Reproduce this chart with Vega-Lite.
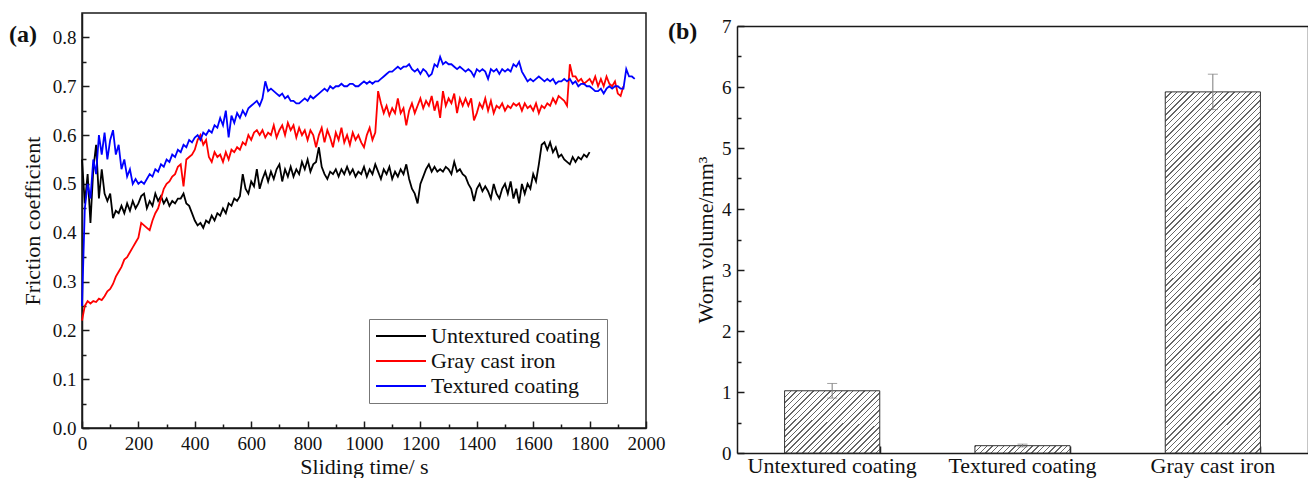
{
"$schema": "https://vega.github.io/schema/vega-lite/v6.json",
"background": "white",
"padding": {"left": 8, "top": 12, "right": 0, "bottom": 0},
"spacing": 2,
"config": {
  "font": "Liberation Serif",
  "view": {"stroke": "#1a1a1a", "strokeWidth": 1.5},
  "axis": {"labelFont": "Liberation Serif", "titleFont": "Liberation Serif", "labelFontSize": 19, "titleFontSize": 22, "titleFontWeight": "normal", "labelColor": "#111", "titleColor": "#111", "domainColor": "#1a1a1a", "tickColor": "#1a1a1a", "domainWidth": 1.5, "tickWidth": 1.5, "grid": false, "labelFlush": false, "labelOverlap": false, "labelLimit": 400},
  "legend": {"labelFont": "Liberation Serif"},
  "title": {"font": "Liberation Serif", "fontSize": 24, "fontWeight": "bold", "color": "#111", "anchor": "start", "frame": "group", "offset": 0}
},
"hconcat": [
{
  "width": 564, "height": 415,
  "title": {"text": "(a)", "dx": -73, "dy": 38},
  "data": {"values": [
{"t":0,"u":0.55,"g":0.22,"b":0.25},{"t":10,"u":0.46,"g":0.25,"b":0.45},{"t":20,"u":0.52,"g":0.26,"b":0.50},{"t":30,"u":0.42,"g":0.255,"b":0.47},{"t":40,"u":0.53,"g":0.26,"b":0.55},{"t":50,"u":0.58,"g":0.258,"b":0.52},{"t":60,"u":0.47,"g":0.265,"b":0.60},{"t":70,"u":0.53,"g":0.262,"b":0.56},{"t":80,"u":0.48,"g":0.27,"b":0.605},{"t":90,"u":0.465,"g":0.28,"b":0.55},
{"t":100,"u":0.48,"g":0.285,"b":0.59},{"t":110,"u":0.43,"g":0.295,"b":0.61},{"t":120,"u":0.445,"g":0.31,"b":0.56},{"t":130,"u":0.44,"g":0.32,"b":0.58},{"t":140,"u":0.455,"g":0.33,"b":0.53},{"t":150,"u":0.44,"g":0.345,"b":0.55},{"t":160,"u":0.46,"g":0.35,"b":0.515},{"t":170,"u":0.445,"g":0.36,"b":0.53},{"t":180,"u":0.465,"g":0.37,"b":0.50},{"t":190,"u":0.45,"g":0.38,"b":0.51},
{"t":200,"u":0.46,"g":0.39,"b":0.50},{"t":210,"u":0.475,"g":0.42,"b":0.505},{"t":220,"u":0.48,"g":0.415,"b":0.50},{"t":230,"u":0.45,"g":0.41,"b":0.51},{"t":240,"u":0.465,"g":0.405,"b":0.52},{"t":250,"u":0.455,"g":0.425,"b":0.515},{"t":260,"u":0.48,"g":0.44,"b":0.53},{"t":270,"u":0.465,"g":0.45,"b":0.525},{"t":280,"u":0.475,"g":0.47,"b":0.54},{"t":290,"u":0.46,"g":0.49,"b":0.535},
{"t":300,"u":0.47,"g":0.50,"b":0.55},{"t":310,"u":0.455,"g":0.505,"b":0.545},{"t":320,"u":0.465,"g":0.515,"b":0.56},{"t":330,"u":0.46,"g":0.52,"b":0.555},{"t":340,"u":0.47,"g":0.535,"b":0.57},{"t":350,"u":0.47,"g":0.54,"b":0.565},{"t":360,"u":0.48,"g":0.495,"b":0.58},{"t":370,"u":0.46,"g":0.55,"b":0.575},{"t":380,"u":0.455,"g":0.555,"b":0.59},{"t":390,"u":0.44,"g":0.56,"b":0.585},
{"t":400,"u":0.425,"g":0.57,"b":0.595},{"t":410,"u":0.415,"g":0.59,"b":0.60},{"t":420,"u":0.42,"g":0.60,"b":0.59},{"t":430,"u":0.41,"g":0.58,"b":0.605},{"t":440,"u":0.425,"g":0.59,"b":0.60},{"t":450,"u":0.42,"g":0.555,"b":0.61},{"t":460,"u":0.435,"g":0.545,"b":0.605},{"t":470,"u":0.425,"g":0.565,"b":0.62},{"t":480,"u":0.44,"g":0.555,"b":0.615},{"t":490,"u":0.435,"g":0.56,"b":0.635},
{"t":500,"u":0.45,"g":0.545,"b":0.62},{"t":510,"u":0.44,"g":0.565,"b":0.65},{"t":520,"u":0.46,"g":0.55,"b":0.595},{"t":530,"u":0.455,"g":0.57,"b":0.64},{"t":540,"u":0.47,"g":0.565,"b":0.625},{"t":550,"u":0.465,"g":0.575,"b":0.645},{"t":560,"u":0.475,"g":0.57,"b":0.635},{"t":570,"u":0.52,"g":0.585,"b":0.65},{"t":580,"u":0.49,"g":0.58,"b":0.64},{"t":590,"u":0.48,"g":0.60,"b":0.655},
{"t":600,"u":0.505,"g":0.59,"b":0.66},{"t":610,"u":0.495,"g":0.605,"b":0.665},{"t":620,"u":0.53,"g":0.61,"b":0.67},{"t":630,"u":0.49,"g":0.60,"b":0.66},{"t":640,"u":0.51,"g":0.61,"b":0.675},{"t":650,"u":0.525,"g":0.595,"b":0.71},{"t":660,"u":0.505,"g":0.605,"b":0.69},{"t":670,"u":0.525,"g":0.60,"b":0.695},{"t":680,"u":0.51,"g":0.62,"b":0.69},{"t":690,"u":0.53,"g":0.595,"b":0.685},
{"t":700,"u":0.54,"g":0.61,"b":0.68},{"t":710,"u":0.505,"g":0.62,"b":0.685},{"t":720,"u":0.53,"g":0.60,"b":0.675},{"t":730,"u":0.515,"g":0.625,"b":0.68},{"t":740,"u":0.535,"g":0.61,"b":0.67},{"t":750,"u":0.515,"g":0.62,"b":0.67},{"t":760,"u":0.53,"g":0.595,"b":0.665},{"t":770,"u":0.52,"g":0.615,"b":0.665},{"t":780,"u":0.545,"g":0.60,"b":0.67},{"t":790,"u":0.53,"g":0.61,"b":0.675},
{"t":800,"u":0.55,"g":0.59,"b":0.67},{"t":810,"u":0.525,"g":0.61,"b":0.68},{"t":820,"u":0.54,"g":0.60,"b":0.675},{"t":830,"u":0.545,"g":0.575,"b":0.68},{"t":840,"u":0.575,"g":0.60,"b":0.685},{"t":850,"u":0.535,"g":0.615,"b":0.69},{"t":860,"u":0.52,"g":0.585,"b":0.695},{"t":870,"u":0.51,"g":0.61,"b":0.69},{"t":880,"u":0.525,"g":0.595,"b":0.70},{"t":890,"u":0.52,"g":0.575,"b":0.695},
{"t":900,"u":0.53,"g":0.605,"b":0.70},{"t":910,"u":0.515,"g":0.59,"b":0.70},{"t":920,"u":0.53,"g":0.615,"b":0.705},{"t":930,"u":0.52,"g":0.585,"b":0.70},{"t":940,"u":0.535,"g":0.60,"b":0.70},{"t":950,"u":0.52,"g":0.58,"b":0.705},{"t":960,"u":0.53,"g":0.605,"b":0.705},{"t":970,"u":0.515,"g":0.59,"b":0.70},{"t":980,"u":0.525,"g":0.60,"b":0.70},{"t":990,"u":0.52,"g":0.585,"b":0.705},
{"t":1000,"u":0.535,"g":0.575,"b":0.71},{"t":1010,"u":0.515,"g":0.60,"b":0.705},{"t":1020,"u":0.53,"g":0.615,"b":0.71},{"t":1030,"u":0.52,"g":0.59,"b":0.705},{"t":1040,"u":0.54,"g":0.605,"b":0.71},{"t":1050,"u":0.525,"g":0.69,"b":0.71},{"t":1060,"u":0.51,"g":0.665,"b":0.715},{"t":1070,"u":0.53,"g":0.645,"b":0.72},{"t":1080,"u":0.52,"g":0.66,"b":0.725},{"t":1090,"u":0.535,"g":0.64,"b":0.73},
{"t":1100,"u":0.51,"g":0.655,"b":0.73},{"t":1110,"u":0.525,"g":0.645,"b":0.735},{"t":1120,"u":0.515,"g":0.675,"b":0.74},{"t":1130,"u":0.53,"g":0.645,"b":0.735},{"t":1140,"u":0.52,"g":0.655,"b":0.74},{"t":1150,"u":0.54,"g":0.62,"b":0.74},{"t":1160,"u":0.51,"g":0.65,"b":0.745},{"t":1170,"u":0.49,"g":0.665,"b":0.735},{"t":1180,"u":0.48,"g":0.645,"b":0.73},{"t":1190,"u":0.46,"g":0.66,"b":0.735},
{"t":1200,"u":0.50,"g":0.675,"b":0.725},{"t":1210,"u":0.515,"g":0.655,"b":0.735},{"t":1220,"u":0.53,"g":0.67,"b":0.73},{"t":1230,"u":0.54,"g":0.66,"b":0.72},{"t":1240,"u":0.525,"g":0.68,"b":0.725},{"t":1250,"u":0.535,"g":0.65,"b":0.745},{"t":1260,"u":0.525,"g":0.67,"b":0.74},{"t":1270,"u":0.53,"g":0.635,"b":0.76},{"t":1280,"u":0.525,"g":0.69,"b":0.745},{"t":1290,"u":0.535,"g":0.66,"b":0.75},
{"t":1300,"u":0.53,"g":0.675,"b":0.745},{"t":1310,"u":0.52,"g":0.665,"b":0.745},{"t":1320,"u":0.545,"g":0.685,"b":0.74},{"t":1330,"u":0.525,"g":0.645,"b":0.735},{"t":1340,"u":0.53,"g":0.675,"b":0.74},{"t":1350,"u":0.52,"g":0.66,"b":0.735},{"t":1360,"u":0.515,"g":0.675,"b":0.73},{"t":1370,"u":0.50,"g":0.66,"b":0.735},{"t":1380,"u":0.49,"g":0.675,"b":0.73},{"t":1390,"u":0.465,"g":0.63,"b":0.72},
{"t":1400,"u":0.49,"g":0.645,"b":0.735},{"t":1410,"u":0.50,"g":0.665,"b":0.73},{"t":1420,"u":0.485,"g":0.655,"b":0.735},{"t":1430,"u":0.495,"g":0.675,"b":0.73},{"t":1440,"u":0.485,"g":0.65,"b":0.715},{"t":1450,"u":0.47,"g":0.67,"b":0.735},{"t":1460,"u":0.50,"g":0.645,"b":0.73},{"t":1470,"u":0.48,"g":0.66,"b":0.735},{"t":1480,"u":0.47,"g":0.655,"b":0.725},{"t":1490,"u":0.49,"g":0.665,"b":0.735},
{"t":1500,"u":0.50,"g":0.65,"b":0.73},{"t":1510,"u":0.48,"g":0.66,"b":0.735},{"t":1520,"u":0.505,"g":0.655,"b":0.73},{"t":1530,"u":0.47,"g":0.665,"b":0.745},{"t":1540,"u":0.49,"g":0.66,"b":0.74},{"t":1550,"u":0.46,"g":0.665,"b":0.75},{"t":1560,"u":0.50,"g":0.65,"b":0.73},{"t":1570,"u":0.48,"g":0.665,"b":0.72},{"t":1580,"u":0.50,"g":0.655,"b":0.71},{"t":1590,"u":0.49,"g":0.66,"b":0.715},
{"t":1600,"u":0.52,"g":0.65,"b":0.71},{"t":1610,"u":0.505,"g":0.665,"b":0.715},{"t":1620,"u":0.54,"g":0.645,"b":0.72},{"t":1630,"u":0.58,"g":0.66,"b":0.715},{"t":1640,"u":0.585,"g":0.655,"b":0.71},{"t":1650,"u":0.57,"g":0.665,"b":0.715},{"t":1660,"u":0.585,"g":0.66,"b":0.71},{"t":1670,"u":0.565,"g":0.675,"b":0.715},{"t":1680,"u":0.575,"g":0.665,"b":0.705},{"t":1690,"u":0.555,"g":0.68,"b":0.71},
{"t":1700,"u":0.56,"g":0.675,"b":0.71},{"t":1710,"u":0.55,"g":0.67,"b":0.715},{"t":1720,"u":0.545,"g":0.66,"b":0.71},{"t":1730,"u":0.54,"g":0.745,"b":0.715},{"t":1740,"u":0.555,"g":0.72,"b":0.705},{"t":1750,"u":0.545,"g":0.72,"b":0.71},{"t":1760,"u":0.555,"g":0.71,"b":0.70},{"t":1770,"u":0.55,"g":0.715,"b":0.705},{"t":1780,"u":0.56,"g":0.705,"b":0.705},{"t":1790,"u":0.555,"g":0.71,"b":0.70},
{"t":1800,"u":0.565,"g":0.715,"b":0.70},{"t":1810,"g":0.705,"b":0.695},{"t":1820,"g":0.72,"b":0.69},{"t":1830,"g":0.70,"b":0.69},{"t":1840,"g":0.715,"b":0.695},{"t":1850,"g":0.70,"b":0.685},{"t":1860,"g":0.72,"b":0.695},{"t":1870,"g":0.705,"b":0.70},{"t":1880,"g":0.70,"b":0.695},{"t":1890,"g":0.71,"b":0.70},
{"t":1900,"g":0.685,"b":0.70},{"t":1910,"g":0.68,"b":0.695},{"t":1920,"g":0.70,"b":0.695},{"t":1930,"b":0.735},{"t":1940,"b":0.72},{"t":1950,"b":0.72},{"t":1960,"b":0.715}
  ]},
  "transform": [{"fold": ["u", "g", "b"], "as": ["s", "v"]}],
  "mark": {"type": "line", "strokeWidth": 1.8},
  "encoding": {
    "x": {"field": "t", "type": "quantitative", "scale": {"domain": [0, 2000], "nice": false},
      "axis": {"title": "Sliding time/ s", "values": [0,100,200,300,400,500,600,700,800,900,1000,1100,1200,1300,1400,1500,1600,1700,1800,1900,2000], "format": "d",
        "labelExpr": "round(datum.value/100)%2===0 ? datum.label : ''",
        "tickSize": {"condition": {"test": "round(datum.value/100)%2===0", "value": -7}, "value": -4},
        "labelPadding": 13, "titlePadding": 0}},
    "y": {"field": "v", "type": "quantitative", "scale": {"domain": [0, 0.85], "nice": false},
      "axis": {"title": "Friction coefficient", "values": [0,0.05,0.1,0.15,0.2,0.25,0.3,0.35,0.4,0.45,0.5,0.55,0.6,0.65,0.7,0.75,0.8], "format": ".1f",
        "labelExpr": "round(datum.value*20)%2===0 ? datum.label : ''",
        "tickSize": {"condition": {"test": "round(datum.value*20)%2===0", "value": -7}, "value": -4},
        "labelPadding": 13, "titlePadding": 8}},
    "color": {"field": "s", "type": "nominal",
      "scale": {"domain": ["u", "g", "b"], "range": ["#000000", "#ff0000", "#0000ff"]},
      "legend": {"orient": "none", "legendX": 287, "legendY": 306, "title": null,
        "labelExpr": "datum.label==='u' ? 'Untextured coating' : datum.label==='g' ? 'Gray cast iron' : 'Textured coating'",
        "symbolType": "stroke", "symbolSize": 2500, "symbolStrokeWidth": 2, "clipHeight": 22, "labelFontSize": 22, "labelColor": "#111", "labelLimit": 400,
        "strokeColor": "#777", "fillColor": "#ffffff", "padding": 6, "rowPadding": 3, "labelOffset": 4}}
  }
},
{
  "width": 571, "height": 440,
  "view": {"stroke": null},
  "title": {"text": "(b)", "dx": -69, "dy": 35},
  "data": {"values": [
    {"c": "Untextured coating", "v": 1.02, "lo": 0.90, "hi": 1.14},
    {"c": "Textured coating", "v": 0.12, "lo": 0.10, "hi": 0.145},
    {"c": "Gray cast iron", "v": 5.92, "lo": 5.63, "hi": 6.21}
  ]},
  "resolve": {"axis": {"x": "independent", "y": "independent"}},
  "layer": [
    {
      "mark": {"type": "bar", "stroke": "#333", "strokeWidth": 1},
      "encoding": {
        "x": {"field": "c", "type": "nominal", "sort": null, "scale": {"domain": ["Untextured coating", "Textured coating", "Gray cast iron"], "paddingInner": 0.5, "paddingOuter": 0.25},
          "axis": {"orient": "bottom", "title": null, "labelAngle": 0, "labelFontSize": 22, "tickSize": -7, "labelPadding": 9}},
        "y": {"field": "v", "type": "quantitative", "scale": {"domain": [0, 7], "nice": false, "range": [440, 13]},
          "axis": {"orient": "left", "title": "Worn volume/mm³", "values": [0,0.5,1,1.5,2,2.5,3,3.5,4,4.5,5,5.5,6,6.5,7],
            "labelExpr": "datum.value % 1 === 0 ? format(datum.value, 'd') : ''",
            "tickSize": {"condition": {"test": "datum.value % 1 === 0", "value": -7}, "value": -4},
            "labelPadding": 13, "titlePadding": 4}},
        "fill": {"condition": [
          {"test": "datum.c === 'Untextured coating'", "value": {"gradient": "linear", "x1": 0, "y1": 0, "x2": 1.158, "y2": 0.758, "stops": [
{"offset":0,"color":"#666"},{"offset":0.009,"color":"#666"},{"offset":0.009,"color":"#fff"},{"offset":0.036,"color":"#fff"},
{"offset":0.036,"color":"#666"},{"offset":0.045,"color":"#666"},{"offset":0.045,"color":"#fff"},{"offset":0.072,"color":"#fff"},
{"offset":0.072,"color":"#666"},{"offset":0.081,"color":"#666"},{"offset":0.081,"color":"#fff"},{"offset":0.108,"color":"#fff"},
{"offset":0.108,"color":"#666"},{"offset":0.117,"color":"#666"},{"offset":0.117,"color":"#fff"},{"offset":0.144,"color":"#fff"},
{"offset":0.144,"color":"#666"},{"offset":0.153,"color":"#666"},{"offset":0.153,"color":"#fff"},{"offset":0.18,"color":"#fff"},
{"offset":0.18,"color":"#666"},{"offset":0.189,"color":"#666"},{"offset":0.189,"color":"#fff"},{"offset":0.216,"color":"#fff"},
{"offset":0.216,"color":"#666"},{"offset":0.225,"color":"#666"},{"offset":0.225,"color":"#fff"},{"offset":0.252,"color":"#fff"},
{"offset":0.252,"color":"#666"},{"offset":0.261,"color":"#666"},{"offset":0.261,"color":"#fff"},{"offset":0.288,"color":"#fff"},
{"offset":0.288,"color":"#666"},{"offset":0.297,"color":"#666"},{"offset":0.297,"color":"#fff"},{"offset":0.324,"color":"#fff"},
{"offset":0.324,"color":"#666"},{"offset":0.333,"color":"#666"},{"offset":0.333,"color":"#fff"},{"offset":0.36,"color":"#fff"},
{"offset":0.36,"color":"#666"},{"offset":0.369,"color":"#666"},{"offset":0.369,"color":"#fff"},{"offset":0.396,"color":"#fff"},
{"offset":0.396,"color":"#666"},{"offset":0.405,"color":"#666"},{"offset":0.405,"color":"#fff"},{"offset":0.432,"color":"#fff"},
{"offset":0.432,"color":"#666"},{"offset":0.441,"color":"#666"},{"offset":0.441,"color":"#fff"},{"offset":0.468,"color":"#fff"},
{"offset":0.468,"color":"#666"},{"offset":0.477,"color":"#666"},{"offset":0.477,"color":"#fff"},{"offset":0.504,"color":"#fff"},
{"offset":0.504,"color":"#666"},{"offset":0.513,"color":"#666"},{"offset":0.513,"color":"#fff"},{"offset":0.54,"color":"#fff"},
{"offset":0.54,"color":"#666"},{"offset":0.549,"color":"#666"},{"offset":0.549,"color":"#fff"},{"offset":0.576,"color":"#fff"},
{"offset":0.576,"color":"#666"},{"offset":0.585,"color":"#666"},{"offset":0.585,"color":"#fff"},{"offset":0.612,"color":"#fff"},
{"offset":0.612,"color":"#666"},{"offset":0.621,"color":"#666"},{"offset":0.621,"color":"#fff"},{"offset":0.648,"color":"#fff"},
{"offset":0.648,"color":"#666"},{"offset":0.657,"color":"#666"},{"offset":0.657,"color":"#fff"},{"offset":0.684,"color":"#fff"},
{"offset":0.684,"color":"#666"},{"offset":0.693,"color":"#666"},{"offset":0.693,"color":"#fff"},{"offset":0.72,"color":"#fff"},
{"offset":0.72,"color":"#666"},{"offset":0.729,"color":"#666"},{"offset":0.729,"color":"#fff"},{"offset":0.756,"color":"#fff"},
{"offset":0.756,"color":"#666"},{"offset":0.765,"color":"#666"},{"offset":0.765,"color":"#fff"},{"offset":0.792,"color":"#fff"},
{"offset":0.792,"color":"#666"},{"offset":0.801,"color":"#666"},{"offset":0.801,"color":"#fff"},{"offset":0.828,"color":"#fff"},
{"offset":0.828,"color":"#666"},{"offset":0.837,"color":"#666"},{"offset":0.837,"color":"#fff"},{"offset":0.864,"color":"#fff"},
{"offset":0.864,"color":"#666"},{"offset":0.873,"color":"#666"},{"offset":0.873,"color":"#fff"},{"offset":0.9,"color":"#fff"},
{"offset":0.9,"color":"#666"},{"offset":0.909,"color":"#666"},{"offset":0.909,"color":"#fff"},{"offset":0.936,"color":"#fff"},
{"offset":0.936,"color":"#666"},{"offset":0.945,"color":"#666"},{"offset":0.945,"color":"#fff"},{"offset":0.972,"color":"#fff"},
{"offset":0.972,"color":"#666"},{"offset":0.981,"color":"#666"},{"offset":0.981,"color":"#fff"},{"offset":1,"color":"#fff"}
          ]}},
          {"test": "datum.c === 'Textured coating'", "value": {"gradient": "linear", "x1": 0, "y1": 0, "x2": 1.0706, "y2": 0.0823, "stops": [
{"offset":0,"color":"#666"},{"offset":0.014,"color":"#666"},{"offset":0.014,"color":"#fff"},{"offset":0.056,"color":"#fff"},
{"offset":0.056,"color":"#666"},{"offset":0.07,"color":"#666"},{"offset":0.07,"color":"#fff"},{"offset":0.112,"color":"#fff"},
{"offset":0.112,"color":"#666"},{"offset":0.126,"color":"#666"},{"offset":0.126,"color":"#fff"},{"offset":0.168,"color":"#fff"},
{"offset":0.168,"color":"#666"},{"offset":0.182,"color":"#666"},{"offset":0.182,"color":"#fff"},{"offset":0.224,"color":"#fff"},
{"offset":0.224,"color":"#666"},{"offset":0.238,"color":"#666"},{"offset":0.238,"color":"#fff"},{"offset":0.28,"color":"#fff"},
{"offset":0.28,"color":"#666"},{"offset":0.294,"color":"#666"},{"offset":0.294,"color":"#fff"},{"offset":0.336,"color":"#fff"},
{"offset":0.336,"color":"#666"},{"offset":0.35,"color":"#666"},{"offset":0.35,"color":"#fff"},{"offset":0.392,"color":"#fff"},
{"offset":0.392,"color":"#666"},{"offset":0.406,"color":"#666"},{"offset":0.406,"color":"#fff"},{"offset":0.448,"color":"#fff"},
{"offset":0.448,"color":"#666"},{"offset":0.462,"color":"#666"},{"offset":0.462,"color":"#fff"},{"offset":0.504,"color":"#fff"},
{"offset":0.504,"color":"#666"},{"offset":0.518,"color":"#666"},{"offset":0.518,"color":"#fff"},{"offset":0.56,"color":"#fff"},
{"offset":0.56,"color":"#666"},{"offset":0.574,"color":"#666"},{"offset":0.574,"color":"#fff"},{"offset":0.616,"color":"#fff"},
{"offset":0.616,"color":"#666"},{"offset":0.63,"color":"#666"},{"offset":0.63,"color":"#fff"},{"offset":0.672,"color":"#fff"},
{"offset":0.672,"color":"#666"},{"offset":0.686,"color":"#666"},{"offset":0.686,"color":"#fff"},{"offset":0.728,"color":"#fff"},
{"offset":0.728,"color":"#666"},{"offset":0.742,"color":"#666"},{"offset":0.742,"color":"#fff"},{"offset":0.784,"color":"#fff"},
{"offset":0.784,"color":"#666"},{"offset":0.798,"color":"#666"},{"offset":0.798,"color":"#fff"},{"offset":0.84,"color":"#fff"},
{"offset":0.84,"color":"#666"},{"offset":0.854,"color":"#666"},{"offset":0.854,"color":"#fff"},{"offset":0.896,"color":"#fff"},
{"offset":0.896,"color":"#666"},{"offset":0.91,"color":"#666"},{"offset":0.91,"color":"#fff"},{"offset":0.952,"color":"#fff"},
{"offset":0.952,"color":"#666"},{"offset":0.966,"color":"#666"},{"offset":0.966,"color":"#fff"},{"offset":1,"color":"#fff"}
          ]}}
        ],
        "value": {"gradient": "linear", "x1": 0, "y1": 0, "x2": 0.3109, "y2": 1.1813, "stops": [
{"offset":0,"color":"#666"},{"offset":0.003,"color":"#666"},{"offset":0.003,"color":"#fff"},{"offset":0.0125,"color":"#fff"},{"offset":0.0125,"color":"#666"},{"offset":0.0155,"color":"#666"},{"offset":0.0155,"color":"#fff"},{"offset":0.025,"color":"#fff"},{"offset":0.025,"color":"#666"},{"offset":0.028,"color":"#666"},{"offset":0.028,"color":"#fff"},{"offset":0.0375,"color":"#fff"},{"offset":0.0375,"color":"#666"},{"offset":0.0405,"color":"#666"},{"offset":0.0405,"color":"#fff"},{"offset":0.05,"color":"#fff"},{"offset":0.05,"color":"#666"},{"offset":0.053,"color":"#666"},{"offset":0.053,"color":"#fff"},{"offset":0.0625,"color":"#fff"},{"offset":0.0625,"color":"#666"},{"offset":0.0655,"color":"#666"},{"offset":0.0655,"color":"#fff"},{"offset":0.075,"color":"#fff"},{"offset":0.075,"color":"#666"},{"offset":0.078,"color":"#666"},{"offset":0.078,"color":"#fff"},{"offset":0.0875,"color":"#fff"},{"offset":0.0875,"color":"#666"},{"offset":0.0905,"color":"#666"},{"offset":0.0905,"color":"#fff"},{"offset":0.1,"color":"#fff"},
{"offset":0.1,"color":"#666"},{"offset":0.103,"color":"#666"},{"offset":0.103,"color":"#fff"},{"offset":0.1125,"color":"#fff"},{"offset":0.1125,"color":"#666"},{"offset":0.1155,"color":"#666"},{"offset":0.1155,"color":"#fff"},{"offset":0.125,"color":"#fff"},{"offset":0.125,"color":"#666"},{"offset":0.128,"color":"#666"},{"offset":0.128,"color":"#fff"},{"offset":0.1375,"color":"#fff"},{"offset":0.1375,"color":"#666"},{"offset":0.1405,"color":"#666"},{"offset":0.1405,"color":"#fff"},{"offset":0.15,"color":"#fff"},{"offset":0.15,"color":"#666"},{"offset":0.153,"color":"#666"},{"offset":0.153,"color":"#fff"},{"offset":0.1625,"color":"#fff"},{"offset":0.1625,"color":"#666"},{"offset":0.1655,"color":"#666"},{"offset":0.1655,"color":"#fff"},{"offset":0.175,"color":"#fff"},{"offset":0.175,"color":"#666"},{"offset":0.178,"color":"#666"},{"offset":0.178,"color":"#fff"},{"offset":0.1875,"color":"#fff"},{"offset":0.1875,"color":"#666"},{"offset":0.1905,"color":"#666"},{"offset":0.1905,"color":"#fff"},{"offset":0.2,"color":"#fff"},
{"offset":0.2,"color":"#666"},{"offset":0.203,"color":"#666"},{"offset":0.203,"color":"#fff"},{"offset":0.2125,"color":"#fff"},{"offset":0.2125,"color":"#666"},{"offset":0.2155,"color":"#666"},{"offset":0.2155,"color":"#fff"},{"offset":0.225,"color":"#fff"},{"offset":0.225,"color":"#666"},{"offset":0.228,"color":"#666"},{"offset":0.228,"color":"#fff"},{"offset":0.2375,"color":"#fff"},{"offset":0.2375,"color":"#666"},{"offset":0.2405,"color":"#666"},{"offset":0.2405,"color":"#fff"},{"offset":0.25,"color":"#fff"},{"offset":0.25,"color":"#666"},{"offset":0.253,"color":"#666"},{"offset":0.253,"color":"#fff"},{"offset":0.2625,"color":"#fff"},{"offset":0.2625,"color":"#666"},{"offset":0.2655,"color":"#666"},{"offset":0.2655,"color":"#fff"},{"offset":0.275,"color":"#fff"},{"offset":0.275,"color":"#666"},{"offset":0.278,"color":"#666"},{"offset":0.278,"color":"#fff"},{"offset":0.2875,"color":"#fff"},{"offset":0.2875,"color":"#666"},{"offset":0.2905,"color":"#666"},{"offset":0.2905,"color":"#fff"},{"offset":0.3,"color":"#fff"},
{"offset":0.3,"color":"#666"},{"offset":0.303,"color":"#666"},{"offset":0.303,"color":"#fff"},{"offset":0.3125,"color":"#fff"},{"offset":0.3125,"color":"#666"},{"offset":0.3155,"color":"#666"},{"offset":0.3155,"color":"#fff"},{"offset":0.325,"color":"#fff"},{"offset":0.325,"color":"#666"},{"offset":0.328,"color":"#666"},{"offset":0.328,"color":"#fff"},{"offset":0.3375,"color":"#fff"},{"offset":0.3375,"color":"#666"},{"offset":0.3405,"color":"#666"},{"offset":0.3405,"color":"#fff"},{"offset":0.35,"color":"#fff"},{"offset":0.35,"color":"#666"},{"offset":0.353,"color":"#666"},{"offset":0.353,"color":"#fff"},{"offset":0.3625,"color":"#fff"},{"offset":0.3625,"color":"#666"},{"offset":0.3655,"color":"#666"},{"offset":0.3655,"color":"#fff"},{"offset":0.375,"color":"#fff"},{"offset":0.375,"color":"#666"},{"offset":0.378,"color":"#666"},{"offset":0.378,"color":"#fff"},{"offset":0.3875,"color":"#fff"},{"offset":0.3875,"color":"#666"},{"offset":0.3905,"color":"#666"},{"offset":0.3905,"color":"#fff"},{"offset":0.4,"color":"#fff"},
{"offset":0.4,"color":"#666"},{"offset":0.403,"color":"#666"},{"offset":0.403,"color":"#fff"},{"offset":0.4125,"color":"#fff"},{"offset":0.4125,"color":"#666"},{"offset":0.4155,"color":"#666"},{"offset":0.4155,"color":"#fff"},{"offset":0.425,"color":"#fff"},{"offset":0.425,"color":"#666"},{"offset":0.428,"color":"#666"},{"offset":0.428,"color":"#fff"},{"offset":0.4375,"color":"#fff"},{"offset":0.4375,"color":"#666"},{"offset":0.4405,"color":"#666"},{"offset":0.4405,"color":"#fff"},{"offset":0.45,"color":"#fff"},{"offset":0.45,"color":"#666"},{"offset":0.453,"color":"#666"},{"offset":0.453,"color":"#fff"},{"offset":0.4625,"color":"#fff"},{"offset":0.4625,"color":"#666"},{"offset":0.4655,"color":"#666"},{"offset":0.4655,"color":"#fff"},{"offset":0.475,"color":"#fff"},{"offset":0.475,"color":"#666"},{"offset":0.478,"color":"#666"},{"offset":0.478,"color":"#fff"},{"offset":0.4875,"color":"#fff"},{"offset":0.4875,"color":"#666"},{"offset":0.4905,"color":"#666"},{"offset":0.4905,"color":"#fff"},{"offset":0.5,"color":"#fff"},
{"offset":0.5,"color":"#666"},{"offset":0.503,"color":"#666"},{"offset":0.503,"color":"#fff"},{"offset":0.5125,"color":"#fff"},{"offset":0.5125,"color":"#666"},{"offset":0.5155,"color":"#666"},{"offset":0.5155,"color":"#fff"},{"offset":0.525,"color":"#fff"},{"offset":0.525,"color":"#666"},{"offset":0.528,"color":"#666"},{"offset":0.528,"color":"#fff"},{"offset":0.5375,"color":"#fff"},{"offset":0.5375,"color":"#666"},{"offset":0.5405,"color":"#666"},{"offset":0.5405,"color":"#fff"},{"offset":0.55,"color":"#fff"},{"offset":0.55,"color":"#666"},{"offset":0.553,"color":"#666"},{"offset":0.553,"color":"#fff"},{"offset":0.5625,"color":"#fff"},{"offset":0.5625,"color":"#666"},{"offset":0.5655,"color":"#666"},{"offset":0.5655,"color":"#fff"},{"offset":0.575,"color":"#fff"},{"offset":0.575,"color":"#666"},{"offset":0.578,"color":"#666"},{"offset":0.578,"color":"#fff"},{"offset":0.5875,"color":"#fff"},{"offset":0.5875,"color":"#666"},{"offset":0.5905,"color":"#666"},{"offset":0.5905,"color":"#fff"},{"offset":0.6,"color":"#fff"},
{"offset":0.6,"color":"#666"},{"offset":0.603,"color":"#666"},{"offset":0.603,"color":"#fff"},{"offset":0.6125,"color":"#fff"},{"offset":0.6125,"color":"#666"},{"offset":0.6155,"color":"#666"},{"offset":0.6155,"color":"#fff"},{"offset":0.625,"color":"#fff"},{"offset":0.625,"color":"#666"},{"offset":0.628,"color":"#666"},{"offset":0.628,"color":"#fff"},{"offset":0.6375,"color":"#fff"},{"offset":0.6375,"color":"#666"},{"offset":0.6405,"color":"#666"},{"offset":0.6405,"color":"#fff"},{"offset":0.65,"color":"#fff"},{"offset":0.65,"color":"#666"},{"offset":0.653,"color":"#666"},{"offset":0.653,"color":"#fff"},{"offset":0.6625,"color":"#fff"},{"offset":0.6625,"color":"#666"},{"offset":0.6655,"color":"#666"},{"offset":0.6655,"color":"#fff"},{"offset":0.675,"color":"#fff"},{"offset":0.675,"color":"#666"},{"offset":0.678,"color":"#666"},{"offset":0.678,"color":"#fff"},{"offset":0.6875,"color":"#fff"},{"offset":0.6875,"color":"#666"},{"offset":0.6905,"color":"#666"},{"offset":0.6905,"color":"#fff"},{"offset":0.7,"color":"#fff"},
{"offset":0.7,"color":"#666"},{"offset":0.703,"color":"#666"},{"offset":0.703,"color":"#fff"},{"offset":0.7125,"color":"#fff"},{"offset":0.7125,"color":"#666"},{"offset":0.7155,"color":"#666"},{"offset":0.7155,"color":"#fff"},{"offset":0.725,"color":"#fff"},{"offset":0.725,"color":"#666"},{"offset":0.728,"color":"#666"},{"offset":0.728,"color":"#fff"},{"offset":0.7375,"color":"#fff"},{"offset":0.7375,"color":"#666"},{"offset":0.7405,"color":"#666"},{"offset":0.7405,"color":"#fff"},{"offset":0.75,"color":"#fff"},{"offset":0.75,"color":"#666"},{"offset":0.753,"color":"#666"},{"offset":0.753,"color":"#fff"},{"offset":0.7625,"color":"#fff"},{"offset":0.7625,"color":"#666"},{"offset":0.7655,"color":"#666"},{"offset":0.7655,"color":"#fff"},{"offset":0.775,"color":"#fff"},{"offset":0.775,"color":"#666"},{"offset":0.778,"color":"#666"},{"offset":0.778,"color":"#fff"},{"offset":0.7875,"color":"#fff"},{"offset":0.7875,"color":"#666"},{"offset":0.7905,"color":"#666"},{"offset":0.7905,"color":"#fff"},{"offset":0.8,"color":"#fff"},
{"offset":0.8,"color":"#666"},{"offset":0.803,"color":"#666"},{"offset":0.803,"color":"#fff"},{"offset":0.8125,"color":"#fff"},{"offset":0.8125,"color":"#666"},{"offset":0.8155,"color":"#666"},{"offset":0.8155,"color":"#fff"},{"offset":0.825,"color":"#fff"},{"offset":0.825,"color":"#666"},{"offset":0.828,"color":"#666"},{"offset":0.828,"color":"#fff"},{"offset":0.8375,"color":"#fff"},{"offset":0.8375,"color":"#666"},{"offset":0.8405,"color":"#666"},{"offset":0.8405,"color":"#fff"},{"offset":0.85,"color":"#fff"},{"offset":0.85,"color":"#666"},{"offset":0.853,"color":"#666"},{"offset":0.853,"color":"#fff"},{"offset":0.8625,"color":"#fff"},{"offset":0.8625,"color":"#666"},{"offset":0.8655,"color":"#666"},{"offset":0.8655,"color":"#fff"},{"offset":0.875,"color":"#fff"},{"offset":0.875,"color":"#666"},{"offset":0.878,"color":"#666"},{"offset":0.878,"color":"#fff"},{"offset":0.8875,"color":"#fff"},{"offset":0.8875,"color":"#666"},{"offset":0.8905,"color":"#666"},{"offset":0.8905,"color":"#fff"},{"offset":0.9,"color":"#fff"},
{"offset":0.9,"color":"#666"},{"offset":0.903,"color":"#666"},{"offset":0.903,"color":"#fff"},{"offset":0.9125,"color":"#fff"},{"offset":0.9125,"color":"#666"},{"offset":0.9155,"color":"#666"},{"offset":0.9155,"color":"#fff"},{"offset":0.925,"color":"#fff"},{"offset":0.925,"color":"#666"},{"offset":0.928,"color":"#666"},{"offset":0.928,"color":"#fff"},{"offset":0.9375,"color":"#fff"},{"offset":0.9375,"color":"#666"},{"offset":0.9405,"color":"#666"},{"offset":0.9405,"color":"#fff"},{"offset":0.95,"color":"#fff"},{"offset":0.95,"color":"#666"},{"offset":0.953,"color":"#666"},{"offset":0.953,"color":"#fff"},{"offset":0.9625,"color":"#fff"},{"offset":0.9625,"color":"#666"},{"offset":0.9655,"color":"#666"},{"offset":0.9655,"color":"#fff"},{"offset":0.975,"color":"#fff"},{"offset":0.975,"color":"#666"},{"offset":0.978,"color":"#666"},{"offset":0.978,"color":"#fff"},{"offset":0.9875,"color":"#fff"},{"offset":0.9875,"color":"#666"},{"offset":0.9905,"color":"#666"},{"offset":0.9905,"color":"#fff"},{"offset":1,"color":"#fff"}
        ]}}
      }
    },
    {
      "mark": {"type": "rule", "color": "#7a7a7a", "strokeWidth": 1},
      "encoding": {
        "x": {"field": "c", "type": "nominal", "sort": null, "scale": {"domain": ["Untextured coating", "Textured coating", "Gray cast iron"], "paddingInner": 0.5, "paddingOuter": 0.25},
          "axis": {"orient": "bottom", "title": null, "labels": false, "domain": false, "tickBand": "extent", "tickSize": -7}},
        "y": {"field": "lo", "type": "quantitative", "scale": {"domain": [0, 7], "nice": false, "range": [440, 13]},
          "axis": {"orient": "right", "title": null, "labels": false, "ticks": false, "domain": true}},
        "y2": {"field": "hi"}
      }
    },
    {
      "mark": {"type": "tick", "color": "#7a7a7a", "thickness": 1, "size": 10},
      "encoding": {
        "x": {"field": "c", "type": "nominal", "sort": null, "scale": {"domain": ["Untextured coating", "Textured coating", "Gray cast iron"], "paddingInner": 0.5, "paddingOuter": 0.25},
          "axis": {"orient": "top", "offset": -13, "title": null, "labels": false, "ticks": false, "domain": true}},
        "y": {"field": "lo", "type": "quantitative", "scale": {"domain": [0, 7], "nice": false, "range": [440, 13]}, "axis": null}
      }
    },
    {
      "mark": {"type": "tick", "color": "#7a7a7a", "thickness": 1, "size": 10},
      "encoding": {
        "x": {"field": "c", "type": "nominal", "sort": null, "scale": {"domain": ["Untextured coating", "Textured coating", "Gray cast iron"], "paddingInner": 0.5, "paddingOuter": 0.25}, "axis": null},
        "y": {"field": "hi", "type": "quantitative", "scale": {"domain": [0, 7], "nice": false, "range": [440, 13]}, "axis": null}
      }
    }
  ]
}
]
}
